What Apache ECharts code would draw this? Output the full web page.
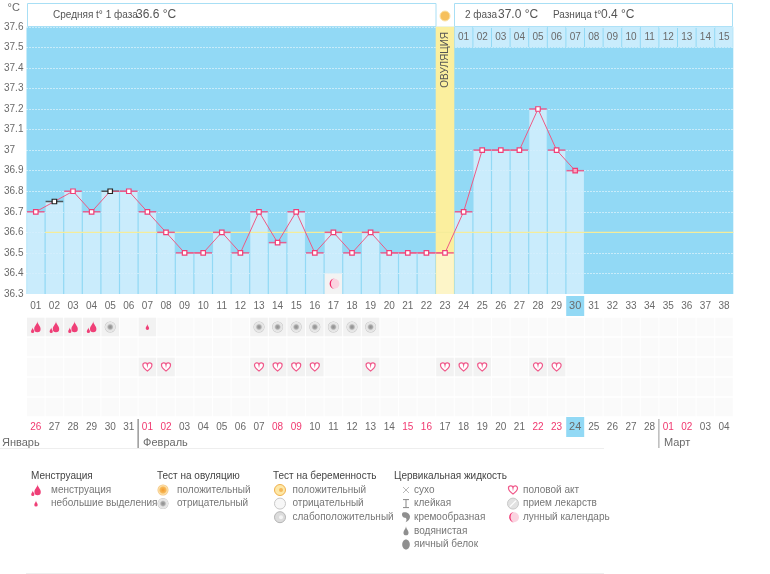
<!DOCTYPE html>
<html>
<head>
<meta charset="utf-8">
<style>
  html, body { margin: 0; background: #fff; }
  #chart { width: 770px; height: 574px; }
</style>
<script src="https://cdn.jsdelivr.net/npm/echarts@6/dist/echarts.min.js"></script>
</head>
<body>
<div id="chart"></div>
<script>
const cycleDays = ["01","02","03","04","05","06","07","08","09","10","11","12","13","14","15","16","17","18","19",
  "20","21","22","23","24","25","26","27","28","29","30","31","32","33","34","35","36","37","38"]
const calendarDates = ["26","27","28","29","30","31","01","02","03","04","05","06","07","08","09","10","11","12","13",
  "14","15","16","17","18","19","20","21","22","23","24","25","26","27","28","01","02","03","04"]
const temperatures = [36.7,36.75,36.8,36.7,36.8,36.8,36.7,36.6,36.5,36.5,36.6,36.5,36.7,36.55,36.7,36.5,36.6,36.5,36.6,
  36.5,36.5,36.5,36.5,36.7,37,37,37,37.2,37,36.9]
const phase2Days = ["01","02","03","04","05","06","07","08","09","10","11","12","13","14","15"]
const redDates = [0,6,7,13,14,20,21,27,28,34,35]
const blackMarkers = [1,4]
const todayIndex = 29
const ovulationIndex = 22
const meanTemp = 36.6
const menstruationDays = [0,1,2,3]
const spottingDays = [6]
const ovulationNegDays = [4,12,13,14,15,16,17,18]
const intercourseDays = [6,7,12,13,14,15,18,22,23,24,27,28]
const moonDays = [16]
const eventRows = ["a","b","c","d","e"]
const months = ["Январь","Февраль","Март"]
const monthStarts = [0,6,34]

const FONT = "Liberation Sans"
const GREY = "#6a6a6a"
const SKY = "#92d9f5"
const PALE = "rgba(211,239,253,.85)"
const PINK = "#ef3f77"

const drop = "M5 0C5 4 9 6 9 10A4 4 0 0 1 1 10C1 6 5 4 5 0Z"
const paths = {
  menses: "M9 0C9 4 13 6 13 10A4 4 0 0 1 5 10C5 6 9 4 9 0ZM3 8C3 10 5 11 5 13A2 2 0 0 1 1 13C1 11 3 10 3 8Z",
  drop: drop,
  heart: "M6 11C2 8 0 6 0 3.5A3 3 0 0 1 6 2.5A3 3 0 0 1 12 3.5C12 6 10 8 6 11Z",
  moon: "M8 0A6.5 6.5 0 1 0 8 13A5 6.5 0 0 1 8 0Z",
  cream: "M1 0C5 -1 9 1 9 5C9 8 7 10 4 11C6 8 5 6 3 6C0 6 -1 1 1 0Z"
}

function pathEl(d, cx, cy, w, h, style) {
  return { type: "path", shape: { pathData: d, x: cx - w / 2, y: cy - h / 2, width: w, height: h, layout: "center" }, style: style }
}
function radial(stops) {
  return new echarts.graphic.RadialGradient(.5, .5, .5, stops.map((c, i) => ({ offset: c[0], color: c[1] })))
}
function disc(cx, cy, r, fill, stroke) {
  return { type: "circle", shape: { cx: cx, cy: cy, r: r }, style: { fill: fill, stroke: stroke || null, lineWidth: 1 } }
}
function iconEls(kind, cx, cy) {
  switch (kind) {
    case "menses": return [pathEl(paths.menses, cx, cy, 10, 12, { fill: PINK })]
    case "spot": return [pathEl(paths.drop, cx, cy, 4, 6, { fill: PINK })]
    case "ovPos": return [disc(cx, cy, 5.5, radial([[0,"#f29a2e"],[.55,"#f7b95a"],[.75,"#fde3b0"],[1,"#f3c27a"]]))]
    case "ovNeg": return [disc(cx, cy, 5.5, radial([[0,"#8c8c8c"],[.35,"#a8a8a8"],[.6,"#e4e4e4"],[.85,"#e8e8e8"],[1,"#bdbdbd"]]))]
    case "pregPos": return [disc(cx, cy, 5.5, "#fde8a8", "#f0b04c"), disc(cx + 1, cy, 2, "#f5b95a")]
    case "pregNeg": return [disc(cx, cy, 5.5, "#f7f7f7", "#c8c8c8")]
    case "pregWeak": return [disc(cx, cy, 5.5, "#dcdcdc", "#b5b5b5"), disc(cx + 1, cy, 2, "#f4f4f4")]
    case "dry": return [
      { type: "line", shape: { x1: cx - 3, y1: cy - 3, x2: cx + 3, y2: cy + 3 }, style: { stroke: "#999", lineWidth: .7 } },
      { type: "line", shape: { x1: cx + 3, y1: cy - 3, x2: cx - 3, y2: cy + 3 }, style: { stroke: "#999", lineWidth: .7 } }]
    case "sticky": return [
      { type: "line", shape: { x1: cx - 3, y1: cy - 4, x2: cx + 3, y2: cy - 4 }, style: { stroke: "#888", lineWidth: 1 } },
      { type: "line", shape: { x1: cx, y1: cy - 4, x2: cx, y2: cy + 4 }, style: { stroke: "#888", lineWidth: 1 } },
      { type: "line", shape: { x1: cx - 3, y1: cy + 4, x2: cx + 3, y2: cy + 4 }, style: { stroke: "#888", lineWidth: 1 } }]
    case "cream": return [pathEl(paths.cream, cx, cy, 8, 10, { fill: "#8f8f8f" })]
    case "watery": return [pathEl(paths.drop, cx, cy, 6, 9, { fill: "#8f8f8f" })]
    case "egg": return [{ type: "ellipse", shape: { cx: cx, cy: cy, rx: 3.8, ry: 5 }, style: { fill: "#8f8f8f" } }]
    case "heart": return [pathEl(paths.heart, cx, cy, 9, 8.5, { fill: "#fff", stroke: "#f0588a", lineWidth: 1.2 })]
    case "pill": return [disc(cx, cy, 5.5, "#e2e2e2", "#c9c9c9"),
      { type: "line", shape: { x1: cx - 3, y1: cy + 3, x2: cx + 3, y2: cy - 3 }, style: { stroke: "#fff", lineWidth: 1.2 } }]
    case "moon": return [disc(cx + 1, cy, 5, "#fbd3e0"), pathEl(paths.moon, cx - 1, cy, 6.5, 11, { fill: "#f02a6b" })]
  }
  return []
}

const dayEvents = []
menstruationDays.forEach(d => dayEvents.push([d, 0, "menses"]))
spottingDays.forEach(d => dayEvents.push([d, 0, "spot"]))
ovulationNegDays.forEach(d => dayEvents.push([d, 0, "ovNeg"]))
intercourseDays.forEach(d => dayEvents.push([d, 2, "heart"]))

const activeCells = dayEvents.map(e => e[0] + ":" + e[1])
const cells = []
eventRows.forEach((row, r) => cycleDays.forEach((day, c) => {
  cells.push([c, r, activeCells.indexOf(c + ":" + r) >= 0 ? 1 : 0])
}))

function dayLabel(value, index, highlight, red) {
  let style = index === highlight ? "h" : (red && red.indexOf(index) >= 0 ? "r" : "n")
  return "{" + style + "|" + value + "}"
}
const labelRich = {
  n: { color: GREY, fontFamily: FONT, fontSize: 10, height: 20, width: 18, align: "center" },
  r: { color: "#f0386f", fontFamily: FONT, fontSize: 10, height: 20, width: 18, align: "center" },
  h: { color: GREY, fontFamily: FONT, fontSize: 11, height: 20, width: 18, align: "center", backgroundColor: SKY }
}

const legendLayout = [
  { title: "Менструация", titleX: 31, iconX: 36, textX: 51, kinds: ["menses","spot"], items: ["менструация","небольшие выделения"] },
  { title: "Тест на овуляцию", titleX: 157, iconX: 163, textX: 177, kinds: ["ovPos","ovNeg"], items: ["положительный","отрицательный"] },
  { title: "Тест на беременность", titleX: 273, iconX: 280, textX: 292.5, kinds: ["pregPos","pregNeg","pregWeak"], items: ["положительный","отрицательный","слабоположительный"] },
  { title: "Цервикальная жидкость", titleX: 394, iconX: 406, textX: 414, kinds: ["dry","sticky","cream","watery","egg"], items: ["сухо","клейкая","кремообразная","водянистая","яичный белок"] },
  { title: "", titleX: 0, iconX: 513, textX: 523, kinds: ["heart","pill","moon"], items: ["половой акт","прием лекарств","лунный календарь"] }
]

function renderLegend() {
  let children = []
  legendLayout.forEach(g => {
    children.push({ type: "text", style: { text: g.title, x: g.titleX, y: 476, verticalAlign: "middle", fill: "#444", font: "10px " + FONT } })
    g.items.forEach((name, i) => {
      let y = 490 + i * 13.6
      children = children.concat(iconEls(g.kinds[i], g.iconX, y))
      children.push({ type: "text", style: { text: name, x: g.textX, y: y, verticalAlign: "middle", fill: "#777", font: "10px " + FONT } })
    })
  })
  return { type: "group", children: children }
}

const chart = echarts.init(document.getElementById("chart"), null, { renderer: "canvas" })

chart.setOption({
  animation: false,
  backgroundColor: "#fff",
  grid: [
    { left: 26.5, top: 26.8, width: 706.8, height: 267.2, show: true, backgroundColor: SKY, borderWidth: 0 },
    { left: 26.5, top: 317, width: 706.8, height: 100, show: false }
  ],
  xAxis: [
    {
      gridIndex: 0, type: "category", data: cycleDays,
      axisLine: { show: false }, axisTick: { show: false },
      axisLabel: { interval: 0, margin: 2, formatter: (v, i) => dayLabel(v, i, todayIndex), rich: labelRich }
    },
    {
      gridIndex: 1, type: "category", data: calendarDates,
      axisLine: { show: false }, axisTick: { show: false },
      axisLabel: { interval: 0, margin: 0, formatter: (v, i) => dayLabel(v, i, todayIndex, redDates), rich: labelRich }
    }
  ],
  yAxis: [
    {
      gridIndex: 0, type: "value", min: 36.3, max: 37.6, interval: 0.1,
      name: "°C", nameLocation: "end", nameGap: 13,
      nameTextStyle: { color: GREY, fontFamily: FONT, fontSize: 11, align: "left", padding: [0, 0, 0, -19] },
      axisLine: { show: false }, axisTick: { show: false },
      axisLabel: { color: GREY, fontFamily: FONT, fontSize: 10, align: "left", margin: 22.5, padding: [4, 0, 0, 0] },
      splitLine: { show: true, lineStyle: { color: "#fff", type: [1, 2], width: 1 } }
    },
    { gridIndex: 1, type: "category", data: eventRows, inverse: true, show: false }
  ],
  graphic: [
    { type: "rect", shape: { x: 27.5, y: 3.5, width: 408.5, height: 23 }, style: { fill: "#fff", stroke: "#a8dff5" } },
    { type: "rect", shape: { x: 454.5, y: 3.5, width: 278, height: 23 }, style: { fill: "#fff", stroke: "#a8dff5" } },
    { type: "circle", shape: { cx: 445, cy: 16, r: 5 }, style: { fill: "#f6c05c", stroke: "#fbe3a8" } },
    { type: "text", style: { text: "Средняя t° 1 фаза", x: 53, y: 15, verticalAlign: "middle", fill: "#555", font: "10px " + FONT } },
    { type: "text", style: { text: "36.6 °C", x: 136, y: 15, verticalAlign: "middle", fill: "#555", font: "12px " + FONT } },
    { type: "text", style: { text: "2 фаза", x: 465, y: 15, verticalAlign: "middle", fill: "#555", font: "10px " + FONT } },
    { type: "text", style: { text: "37.0 °C", x: 498, y: 15, verticalAlign: "middle", fill: "#555", font: "12px " + FONT } },
    { type: "text", style: { text: "Разница t°", x: 553, y: 15, verticalAlign: "middle", fill: "#555", font: "10px " + FONT } },
    { type: "text", style: { text: "0.4 °C", x: 601, y: 15, verticalAlign: "middle", fill: "#555", font: "12px " + FONT } },
    { type: "line", shape: { x1: 0, y1: 448.5, x2: 604, y2: 448.5 }, style: { stroke: "#eee" } },
    { type: "line", shape: { x1: 26, y1: 573.5, x2: 604, y2: 573.5 }, style: { stroke: "#eee" } }
  ],
  series: [
    {
      // ovulation column
      type: "custom", xAxisIndex: 0, yAxisIndex: 0, z: 1, clip: false,
      data: [[ovulationIndex, 37.6, 36.3]],
      renderItem: (params, api) => {
        let top = api.coord([api.value(0), api.value(1)])
        let bottom = api.coord([api.value(0), api.value(2)])
        let w = api.size([1, 0])[0]
        return { type: "group", children: [
          { type: "rect", shape: { x: top[0] - w / 2, y: top[1], width: w, height: bottom[1] - top[1] }, style: { fill: "#fbef9e" } },
          { type: "text", x: top[0] + .5, y: top[1] + 33, rotation: Math.PI / 2,
            style: { text: "ОВУЛЯЦИЯ", align: "center", verticalAlign: "middle", fill: "#555", font: "10px " + FONT } }
        ] }
      }
    },
    {
      name: "t°", type: "bar", xAxisIndex: 0, yAxisIndex: 0, barWidth: 17.4, z: 2,
      data: temperatures.map((v, i) => ({
        value: v,
        itemStyle: { color: i === ovulationIndex ? "#fdf5c8" : PALE }
      }))
    },
    {
      // second phase day cells
      type: "custom", xAxisIndex: 0, yAxisIndex: 0, z: 2,
      data: phase2Days.map((d, i) => [ovulationIndex + 1 + i, 37.6, d]),
      renderItem: (params, api) => {
        let p = api.coord([api.value(0), api.value(1)])
        let s = api.size([1, 0.1])
        return { type: "group", children: [
          { type: "rect", shape: { x: p[0] - s[0] / 2 + .5, y: p[1], width: s[0] - 1, height: s[1] }, style: { fill: "#c9ecfc" } },
          { type: "text", style: { text: phase2Days[params.dataIndex], x: p[0], y: p[1] + s[1] / 2, align: "center", verticalAlign: "middle", fill: GREY, font: "10px " + FONT } }
        ] }
      }
    },
    {
      // mean temperature of the first phase
      type: "custom", xAxisIndex: 0, yAxisIndex: 0, z: 3,
      data: [[1, meanTemp, cycleDays.length - 1]],
      renderItem: (params, api) => {
        let w = api.size([1, 0])[0]
        let a = api.coord([api.value(0), api.value(1)])
        let b = api.coord([api.value(2), api.value(1)])
        return { type: "line", shape: { x1: a[0] - w / 2, y1: a[1], x2: b[0] + w / 2, y2: b[1] }, style: { stroke: "#f5ec9a", lineWidth: 1.2 } }
      }
    },
    {
      // moon cell
      type: "custom", xAxisIndex: 0, yAxisIndex: 0, z: 3,
      data: moonDays.map(d => [d, 36.4]),
      renderItem: (params, api) => {
        let p = api.coord([api.value(0), api.value(1)])
        let s = api.size([1, 0.1])
        return { type: "group", children: [
          { type: "rect", shape: { x: p[0] - s[0] / 2 + .5, y: p[1], width: s[0] - 1, height: s[1] }, style: { fill: "#f3f3f3" } }
        ].concat(iconEls("moon", p[0], p[1] + s[1] / 2)) }
      }
    },
    {
      type: "scatter", xAxisIndex: 0, yAxisIndex: 0, z: 4, symbol: "rect", symbolSize: [17.6, 1.5], silent: true,
      data: temperatures.map((v, i) => ({
        value: [i, v],
        itemStyle: { color: blackMarkers.indexOf(i) >= 0 ? "#333" : PINK }
      }))
    },
    {
      type: "line", xAxisIndex: 0, yAxisIndex: 0, z: 5, symbol: "rect", symbolSize: 4.5, showAllSymbol: true,
      lineStyle: { color: "#ee5a85", width: 1 },
      data: temperatures.map((v, i) => ({
        value: v,
        itemStyle: {
          color: i === todayIndex ? "#f9a8c2" : "#fff",
          borderColor: blackMarkers.indexOf(i) >= 0 ? "#222" : PINK,
          borderWidth: 1.2
        }
      }))
    },
    {
      // event cell backgrounds
      type: "custom", xAxisIndex: 1, yAxisIndex: 1, z: 1,
      data: cells,
      renderItem: (params, api) => {
        let p = api.coord([api.value(0), api.value(1)])
        let s = api.size([1, 1])
        return { type: "rect", shape: { x: p[0] - s[0] / 2 + .5, y: p[1] - s[1] / 2 + .7, width: s[0] - 1, height: s[1] - 1.4 },
          style: { fill: api.value(2) ? "#f2f2f2" : "#fafafa" } }
      }
    },
    {
      // event icons
      type: "custom", xAxisIndex: 1, yAxisIndex: 1, z: 2,
      encode: { x: 0, y: 1 },
      data: dayEvents.map(e => [e[0], e[1]]),
      renderItem: (params, api) => {
        let p = api.coord([api.value(0), api.value(1)])
        return { type: "group", children: iconEls(dayEvents[params.dataIndex][2], p[0], p[1]) }
      }
    },
    {
      // months under the date axis
      type: "custom", xAxisIndex: 1, yAxisIndex: 1, z: 3, clip: false,
      data: monthStarts.map(m => [m, 4]),
      renderItem: (params, api) => {
        let i = params.dataIndex
        let p = api.coord([api.value(0), api.value(1)])
        let left = p[0] - api.size([1, 0])[0] / 2
        let els = [{ type: "text", style: { text: months[i], x: i === 0 ? 2 : left + 5, y: 443, verticalAlign: "middle", fill: GREY, font: "11px " + FONT } }]
        if (i > 0) els.push({ type: "line", shape: { x1: left, y1: 419, x2: left, y2: 448 }, style: { stroke: i === 1 ? "#666" : "#999", lineWidth: 1 } })
        return { type: "group", children: els }
      }
    },
    {
      type: "custom", coordinateSystem: "none", z: 3, data: [[0]], renderItem: renderLegend
    }
  ]
})
</script>
</body>
</html>
